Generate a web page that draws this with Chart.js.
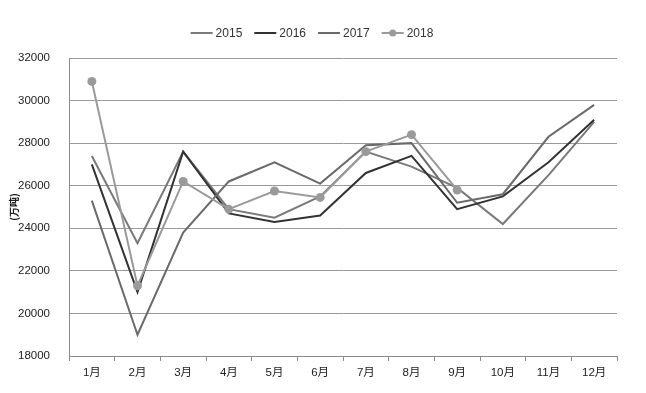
<!DOCTYPE html>
<html>
<head>
<meta charset="utf-8">
<script src="https://cdn.jsdelivr.net/npm/chart.js@4/dist/chart.umd.min.js"></script>
<style>
  html, body { margin: 0; padding: 0; background: #fff; }
  #wrap { width: 646px; height: 393px; position: relative; }
</style>
</head>
<body>
<div id="wrap"><canvas id="chart" width="646" height="393"></canvas></div>
<script>
const months = ['1月', '2月', '3月', '4月', '5月', '6月', '7月', '8月', '9月', '10月', '11月', '12月'];
const years = ['2015', '2016', '2017', '2018'];

const data2015 = [27400, 23300, 27600, 24900, 24500, 25500, 27600, 26900, 25900, 24200, 26500, 29000];
const data2016 = [27000, 21000, 27600, 24700, 24300, 24600, 26600, 27400, 24900, 25500, 27100, 29100];
const data2017 = [25300, 19000, 23800, 26200, 27100, 26100, 27900, 28000, 25200, 25600, 28300, 29800];
const data2018 = [30900, 21300, 26200, 24900, 25750, 25450, 27600, 28400, 25800];

const yTicks = [18000, 20000, 22000, 24000, 26000, 28000, 30000, 32000];

const colors = ['#7a7a7a', '#333333', '#6a6a6a', '#9a9a9a'];

// legend drawn by hand so the 2018 entry can show line + dot
const legendPlugin = {
    id: 'handLegend',
    afterDraw(chart) {
        const ctx = chart.ctx;
        ctx.save();
        ctx.font = '12px "Liberation Sans", Arial, sans-serif';
        ctx.textBaseline = 'middle';
        const lineLen = 22, gapText = 3, gapItem = 12;
        const items = chart.data.datasets.map(ds => ({
            label: ds.label, color: ds.borderColor, dot: ds.pointRadius > 0,
            w: lineLen + gapText + ctx.measureText(ds.label).width
        }));
        const total = items.reduce((s, it) => s + it.w, 0) + gapItem * (items.length - 1);
        let x = 312 - total / 2;
        const y = 33;
        items.forEach(it => {
            ctx.strokeStyle = it.color;
            ctx.lineWidth = 2;
            ctx.beginPath();
            ctx.moveTo(x, y);
            ctx.lineTo(x + lineLen, y);
            ctx.stroke();
            if (it.dot) {
                ctx.fillStyle = it.color;
                ctx.beginPath();
                ctx.arc(x + lineLen / 2, y, 3.5, 0, Math.PI * 2);
                ctx.fill();
            }
            ctx.fillStyle = '#333';
            ctx.fillText(it.label, x + lineLen + gapText, y + 0.5);
            x += it.w + gapItem;
        });
        ctx.restore();
    }
};

const series = [data2015, data2016, data2017, data2018];

const chart = new Chart(document.getElementById('chart'), {
    type: 'line',
    data: {
        labels: months,
        datasets: series.map((d, i) => ({
            label: years[i],
            data: d,
            borderColor: colors[i],
            backgroundColor: colors[i],
            borderWidth: 2,
            pointRadius: i === 3 ? 4.5 : 0,
            pointHoverRadius: i === 3 ? 4.5 : 0,
            pointBorderWidth: 0,
            tension: 0,
            order: 4 - i
        }))
    },
    options: {
        responsive: false,
        animation: false,
        devicePixelRatio: 1,
        layout: { padding: { top: 58, left: 8, right: 29, bottom: 8 } },
        plugins: {
            legend: { display: false },
            tooltip: { enabled: false }
        },
        scales: {
            x: {
                offset: true,
                grid: {
                    offset: true,
                    drawOnChartArea: false,
                    drawTicks: true,
                    tickLength: 5,
                    color: '#8a8a8a'
                },
                border: { display: true, color: '#8a8a8a', width: 1 },
                ticks: {
                    color: '#222',
                    padding: 5,
                    maxRotation: 0,
                    autoSkip: false,
                    font: { family: '"Liberation Sans", "Noto Sans CJK SC", sans-serif', size: 11.5 }
                },
                afterFit(scale) { scale.height = 29; }
            },
            y: {
                min: 18000,
                max: 32000,
                afterBuildTicks(scale) { scale.ticks = yTicks.map(v => ({ value: v })); },
                grid: { color: '#9a9a9a', lineWidth: 1, drawTicks: false },
                border: { display: true, color: '#8a8a8a', width: 1 },
                ticks: {
                    color: '#222',
                    padding: 19,
                    callback: v => String(v),
                    font: { family: '"Liberation Sans Narrow", "Liberation Sans", sans-serif', size: 11.5 }
                },
                title: {
                    display: true,
                    text: '(万吨)',
                    color: '#222',
                    padding: 0,
                    font: { family: '"Noto Sans CJK SC", sans-serif', size: 10, weight: 'bold' }
                },
                afterFit(scale) { scale.width = 61; }
            }
        }
    },
    plugins: [legendPlugin]
});
</script>
</body>
</html>
